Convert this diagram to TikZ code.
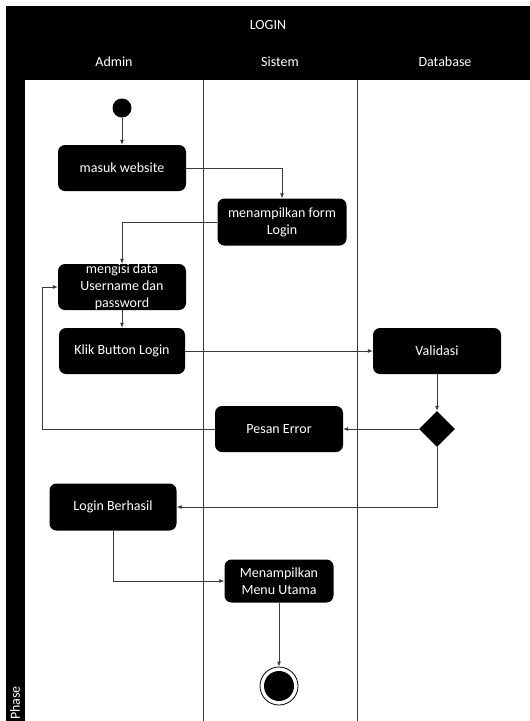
\documentclass[tikz,border=0pt]{standalone}
\usepackage{fontspec}
\setmainfont{Carlito}
\usepackage{tikz}
\usetikzlibrary{shapes.geometric,arrows.meta}
\newcommand{\flowWidth}[0]{0.8pt}
\newcommand{\boxRound}[0]{7pt}
\definecolor{flowgray}{HTML}{3A3A3A}

\begin{document}
\begin{tikzpicture}[x=1pt, y=-1pt, font=\fontsize{14}{17}\selectfont]
  \tikzset{
    action/.style={fill=black, rounded corners=\boxRound, text=white, align=center, inner sep=0pt},
    decision/.style={diamond, fill=black, inner sep=0pt, minimum width=36pt, minimum height=36pt},
    endstate/.style={circle, draw=black, line width=\flowWidth, minimum size=38pt, inner sep=0pt,
      path picture={\fill (path picture bounding box.center) circle (15pt);}},
    flow/.style={draw=flowgray, line width=\flowWidth, -{Latex[length=5pt,width=4pt]}},
    lane/.style={draw=flowgray, line width=\flowWidth},
    header/.style={text=white}
  }
  \useasboundingbox (0,0) rectangle (530,721);
  % swimlane frame
  \fill (6,6) rectangle (530,80);
  \fill (6,80) rectangle (25,721);
  \draw[lane] (203,80) -- (203,721);
  \draw[lane] (357,80) -- (357,721);
  \node[header] (title) at (268,25) {LOGIN};
  \node[header] (admin) at (114,62) {Admin};
  \node[header] (sistem) at (280,62) {Sistem};
  \node[header] (database) at (445,62) {Database};
  \node[header, rotate=90] (phase) at (15,703) {Phase};
  % activities
  \node[circle, fill=black, minimum size=19pt, inner sep=0pt] (start) at (122,108) {};
  \node[action, minimum width=128pt, minimum height=46pt] (masuk) at (122,168) {masuk website};
  \node[action, minimum width=129pt, minimum height=47pt] (form) at (282,222) {menampilkan form\\Login};
  \node[action, minimum width=128pt, minimum height=46pt] (isi) at (122,287) {};
  \node[header, align=center, inner sep=0pt] (isitext) at (isi) {mengisi data\\Username dan\\password};
  \node[action, minimum width=126pt, minimum height=46pt] (klik) at (122,351) {Klik Button Login};
  \node[action, minimum width=128pt, minimum height=46pt] (validasi) at (437,351) {Validasi};
  \node[decision] (cek) at (437,429) {};
  \node[action, minimum width=128pt, minimum height=46pt] (error) at (279,429) {Pesan Error};
  \node[action, minimum width=127pt, minimum height=47pt] (berhasil) at (113,507) {Login Berhasil};
  \node[action, minimum width=109pt, minimum height=43pt] (menu) at (279,581) {Menampilkan\\Menu Utama};
  \node[endstate] (end) at (279,686) {};
  \coordinate (balik) at (42,429);
  % flows
  \draw[flow] (start) -- (masuk);
  \draw[flow] (masuk) -| (form);
  \draw[flow] (form) -| (isi);
  \draw[flow] (isi) -- (klik);
  \draw[flow] (klik) -- (validasi);
  \draw[flow] (validasi) -- (cek);
  \draw[flow] (cek) -- (error);
  \draw[flow] (error) -- (balik) |- (isi);
  \draw[flow] (cek) |- (berhasil);
  \draw[flow] (berhasil) |- (menu);
  \draw[flow] (menu) -- (end);
\end{tikzpicture}
\end{document}
